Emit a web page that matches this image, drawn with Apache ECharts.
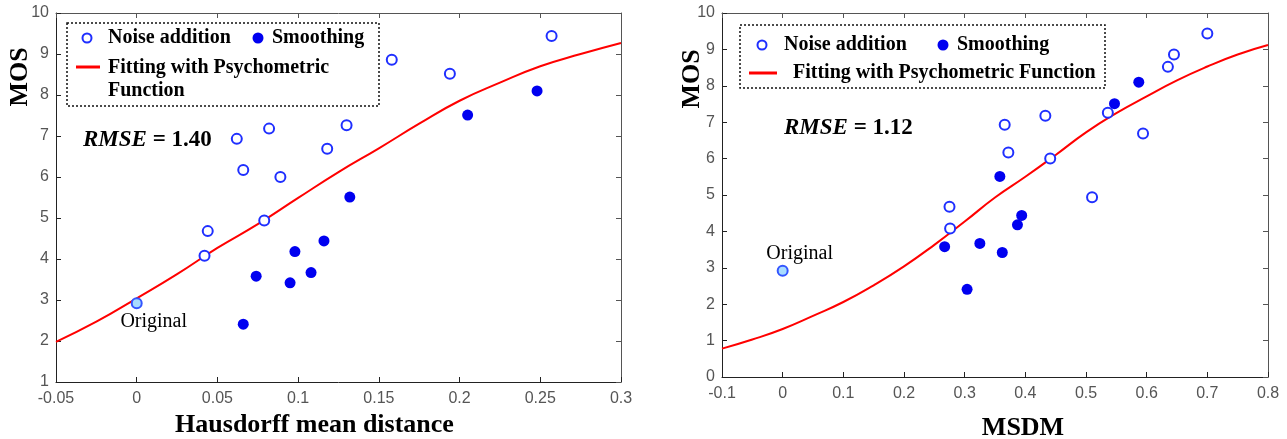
<!doctype html>
<html>
<head>
<meta charset="utf-8" />
<script src="https://cdn.jsdelivr.net/npm/echarts@6.0.0/dist/echarts.min.js"></script>
<style>
  html, body { margin: 0; padding: 0; background: #fff; }
  #chart { width: 1287px; height: 439px; }
</style>
</head>
<body>
<div id="chart"></div>
<script>
// MOS of each distorted model (same order in both panels)
var mosNoise  = [4.08, 4.68, 6.93, 6.17, 7.18, 6.00, 4.94, 6.69, 7.26, 8.86, 8.52, 9.44];
var mosSmooth = [2.41, 3.58, 3.42, 4.18, 3.67, 4.44, 5.51, 7.51, 8.10];
var mosOriginal = 2.92;

// Hausdorff mean distance
var hmdNoise  = [0.042, 0.044, 0.062, 0.066, 0.082, 0.089, 0.079, 0.118, 0.130, 0.158, 0.194, 0.257];
var hmdSmooth = [0.066, 0.074, 0.095, 0.098, 0.108, 0.116, 0.132, 0.205, 0.248];
var hmdOriginal = 0;
var hmdFitX = [-0.05, -0.025, 0, 0.025, 0.05, 0.075, 0.1, 0.125, 0.15, 0.175, 0.2, 0.225, 0.25, 0.275, 0.3];
var hmdFitY = [1.98, 2.47, 3.04, 3.63, 4.27, 4.85, 5.49, 6.12, 6.70, 7.30, 7.86, 8.30, 8.70, 9.00, 9.27];

// MSDM
var msdmNoise  = [0.276, 0.275, 0.366, 0.372, 0.433, 0.441, 0.510, 0.594, 0.536, 0.645, 0.635, 0.700];
var msdmSmooth = [0.304, 0.267, 0.362, 0.387, 0.325, 0.394, 0.358, 0.547, 0.587];
var msdmOriginal = 0;
var msdmFitX = [-0.1, -0.05, 0, 0.05, 0.1, 0.15, 0.2, 0.25, 0.3, 0.35, 0.4, 0.45, 0.5, 0.55, 0.6, 0.65, 0.7, 0.75, 0.8];
var msdmFitY = [0.78, 1.03, 1.32, 1.68, 2.06, 2.52, 3.04, 3.63, 4.27, 4.93, 5.50, 6.10, 6.72, 7.25, 7.71, 8.15, 8.53, 8.86, 9.12];

function pairs(xs, ys) {
    return xs.map(function (x, i) { return [x, ys[i]]; });
}

var BLUE = '#0000f0';
var RING = '#1f2fff';
var SERIF = '"Liberation Serif", "Times New Roman", serif';
var SANS = '"Liberation Sans", Arial, sans-serif';

function fmt(v) {
    return String(Math.round(v * 100) / 100);
}

function mainX(grid, min, max, step, name, gap, pad) {
    return {
        gridIndex: grid, type: 'value', min: min, max: max, interval: step, position: 'bottom',
        axisLine: { show: true, onZero: false, lineStyle: { color: '#222', width: 1 } },
        axisTick: { show: true, inside: true, length: 5, lineStyle: { color: '#222' } },
        axisLabel: { color: '#555', fontSize: 16, fontFamily: SANS, margin: 9, formatter: fmt },
        splitLine: { show: false },
        name: name, nameLocation: 'middle', nameGap: gap,
        nameTextStyle: { fontFamily: SERIF, fontWeight: 'bold', fontSize: 26, color: '#000', padding: pad }
    };
}
function sideX(grid, min, max, step) {
    return {
        gridIndex: grid, type: 'value', min: min, max: max, interval: step, position: 'top',
        axisLine: { show: true, onZero: false, lineStyle: { color: '#555' } },
        axisTick: { show: true, inside: true, length: 5, lineStyle: { color: '#555' } },
        axisLabel: { show: false }, splitLine: { show: false }
    };
}
function mainY(grid, min, max) {
    return {
        gridIndex: grid, type: 'value', min: min, max: max, interval: 1, position: 'left',
        axisLine: { show: true, onZero: false, lineStyle: { color: '#222' } },
        axisTick: { show: true, inside: true, length: 5, lineStyle: { color: '#222' } },
        axisLabel: { color: '#555', fontSize: 16, fontFamily: SANS, margin: 7 },
        splitLine: { show: false }
    };
}
function sideY(grid, min, max) {
    return {
        gridIndex: grid, type: 'value', min: min, max: max, interval: 1, position: 'right',
        axisLine: { show: true, onZero: false, lineStyle: { color: '#555' } },
        axisTick: { show: true, inside: true, length: 5, lineStyle: { color: '#555' } },
        axisLabel: { show: false }, splitLine: { show: false }
    };
}

function fitSeries(ax, xs, ys) {
    return {
        type: 'line', xAxisIndex: ax, yAxisIndex: ax, data: pairs(xs, ys), smooth: true,
        showSymbol: false, silent: true, z: 2,
        lineStyle: { color: '#ff0000', width: 2 }
    };
}
function noiseSeries(ax, xs) {
    return {
        type: 'scatter', xAxisIndex: ax, yAxisIndex: ax, data: pairs(xs, mosNoise), symbolSize: 10, z: 3,
        itemStyle: { color: '#fff', borderColor: RING, borderWidth: 2, opacity: 1 }
    };
}
function smoothSeries(ax, xs) {
    return {
        type: 'scatter', xAxisIndex: ax, yAxisIndex: ax, data: pairs(xs, mosSmooth), symbolSize: 11, z: 3,
        itemStyle: { color: BLUE, opacity: 1 }
    };
}
function originalSeries(ax, x, pos, off) {
    return {
        type: 'scatter', xAxisIndex: ax, yAxisIndex: ax, data: [[x, mosOriginal]], symbolSize: 10, z: 4,
        itemStyle: { color: '#a8dcff', borderColor: '#3355ff', borderWidth: 2, opacity: 1 },
        label: {
            show: true, formatter: 'Original', position: pos, offset: off,
            fontFamily: SERIF, fontSize: 20, color: '#000'
        }
    };
}

function legendBox(x, y, w, h) {
    return {
        type: 'rect', shape: { x: x, y: y, width: w, height: h }, z: 10,
        style: { fill: '#fff', stroke: '#111', lineWidth: 1.5, lineDash: [2, 2] }
    };
}
function legText(x, y, t) {
    return {
        type: 'text', x: x, y: y, z: 11,
        style: { text: t, fontFamily: SERIF, fontWeight: 'bold', fontSize: 20, fill: '#000',
                 verticalAlign: 'middle', lineHeight: 23 }
    };
}
function openDot(x, y) {
    return { type: 'circle', shape: { cx: x, cy: y, r: 4.5 }, z: 11,
             style: { fill: '#fff', stroke: RING, lineWidth: 2 } };
}
function fullDot(x, y) {
    return { type: 'circle', shape: { cx: x, cy: y, r: 5.5 }, z: 11, style: { fill: BLUE } };
}
function redLine(x1, x2, y) {
    return { type: 'line', shape: { x1: x1, y1: y, x2: x2, y2: y }, z: 11,
             style: { stroke: '#ff0000', lineWidth: 3 } };
}
function rmseText(x, y, v) {
    return {
        type: 'text', x: x, y: y, z: 11,
        style: {
            text: '{i|RMSE} = ' + v, fontFamily: SERIF, fontWeight: 'bold', fontSize: 23, fill: '#000',
            verticalAlign: 'middle',
            rich: { i: { fontStyle: 'italic', fontWeight: 'bold', fontFamily: SERIF, fontSize: 23 } }
        }
    };
}
function mosText(x, y) {
    return {
        type: 'text', x: x, y: y, rotation: Math.PI / 2, z: 11,
        style: { text: 'MOS', fontFamily: SERIF, fontWeight: 'bold', fontSize: 26, fill: '#000',
                 align: 'center', verticalAlign: 'middle' }
    };
}

var chart = echarts.init(document.getElementById('chart'), null, { renderer: 'canvas' });
chart.setOption({
    animation: false,
    backgroundColor: '#fff',
    grid: [
        { left: 56, top: 13, width: 565, height: 369, containLabel: false, outerBoundsMode: 'none' },
        { left: 722, top: 13, width: 546, height: 364, containLabel: false, outerBoundsMode: 'none' }
    ],
    xAxis: [
        mainX(0, -0.05, 0.3, 0.05, 'Hausdorff mean distance', 30, [0, 48, 0, 0]),
        sideX(0, -0.05, 0.3, 0.05),
        mainX(1, -0.1, 0.8, 0.1, 'MSDM', 38, [0, 0, 0, 56]),
        sideX(1, -0.1, 0.8, 0.1)
    ],
    yAxis: [
        mainY(0, 1, 10),
        sideY(0, 1, 10),
        mainY(1, 0, 10),
        sideY(1, 0, 10)
    ],
    series: [
        fitSeries(0, hmdFitX, hmdFitY),
        noiseSeries(0, hmdNoise),
        smoothSeries(0, hmdSmooth),
        originalSeries(0, hmdOriginal, 'bottom', [17, -3]),
        fitSeries(2, msdmFitX, msdmFitY),
        noiseSeries(2, msdmNoise),
        smoothSeries(2, msdmSmooth),
        originalSeries(2, msdmOriginal, 'top', [17, 4])
    ],
    graphic: [
        legendBox(67, 23, 312, 83),
        openDot(87, 38), legText(108, 38, 'Noise addition'),
        fullDot(258, 38), legText(272, 38, 'Smoothing'),
        redLine(76, 100, 67), legText(108, 79, 'Fitting with Psychometric\nFunction'),
        rmseText(83, 140, '1.40'),
        mosText(20, 77),

        legendBox(740, 25, 365, 63),
        openDot(762, 45), legText(784, 45, 'Noise addition'),
        fullDot(943, 45), legText(957, 45, 'Smoothing'),
        redLine(749, 777, 73), legText(793, 73, 'Fitting with Psychometric Function'),
        rmseText(784, 128, '1.12'),
        mosText(692, 79)
    ]
});
</script>
</body>
</html>
